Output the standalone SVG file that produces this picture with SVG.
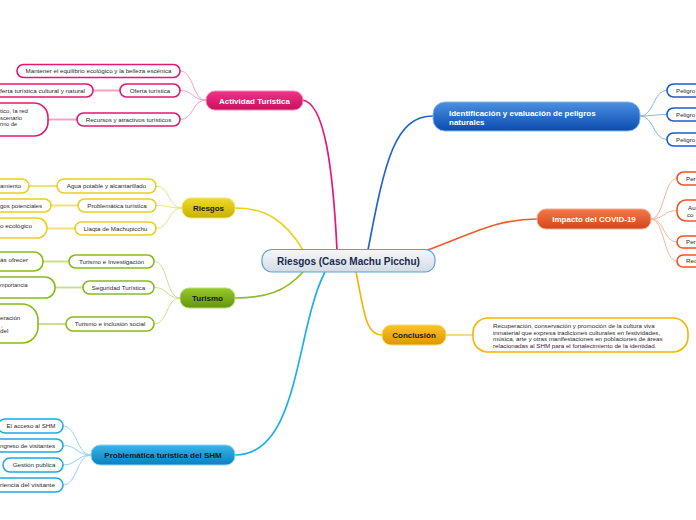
<svg xmlns="http://www.w3.org/2000/svg" width="696" height="520" viewBox="0 0 696 520">
<defs>
<linearGradient id="gC" x1="0" y1="0" x2="0" y2="1"><stop offset="0" stop-color="#f6f8fa"/><stop offset="1" stop-color="#d3dbe3"/></linearGradient>
<linearGradient id="gPink" x1="0" y1="0" x2="0" y2="1"><stop offset="0" stop-color="#f0348a"/><stop offset="1" stop-color="#c80f5c"/></linearGradient>
<linearGradient id="gYel" x1="0" y1="0" x2="0" y2="1"><stop offset="0" stop-color="#eedb2a"/><stop offset="1" stop-color="#c7b100"/></linearGradient>
<linearGradient id="gGrn" x1="0" y1="0" x2="0" y2="1"><stop offset="0" stop-color="#98c92a"/><stop offset="1" stop-color="#64950c"/></linearGradient>
<linearGradient id="gCy" x1="0" y1="0" x2="0" y2="1"><stop offset="0" stop-color="#3ab5ea"/><stop offset="1" stop-color="#0a80c0"/></linearGradient>
<linearGradient id="gBlu" x1="0" y1="0" x2="0" y2="1"><stop offset="0" stop-color="#4a90e2"/><stop offset="1" stop-color="#0a4cb0"/></linearGradient>
<linearGradient id="gOra" x1="0" y1="0" x2="0" y2="1"><stop offset="0" stop-color="#f5784a"/><stop offset="1" stop-color="#d2461a"/></linearGradient>
<linearGradient id="gGold" x1="0" y1="0" x2="0" y2="1"><stop offset="0" stop-color="#f9c32a"/><stop offset="1" stop-color="#de9700"/></linearGradient>
</defs>
<style>
text{font-family:"Liberation Sans",Arial,sans-serif}
.t{font-size:6.2px;fill:#2a2a2a}
.tc{font-size:6.2px;fill:#2a2a2a;text-anchor:middle}
.m{font-size:8px;font-weight:bold;text-anchor:middle}
.w{fill:#fff}
.d{fill:#1a1a1a}
.n{fill:#fff;stroke-width:1.6}
.pk{stroke:#e5186f}.ye{stroke:#e8d020}.gr{stroke:#86bb1a}.cy{stroke:#1ea8e6}.bl{stroke:#1a5fd0}.or{stroke:#ee5522}.go{stroke:#f5b400}
.main{fill:none;stroke-width:1.7}
.sub{fill:none;stroke-width:1}
.gc{fill:none;stroke-width:2}
</style>
<g id="connectors">
<path class="main" stroke="#e8177a" d="M337,250 C333,170 325,102 302,100"/>
<path class="main" stroke="#1e64d2" d="M368,250 C385,160 395,116 433,116"/>
<path class="main" stroke="#f05a28" d="M425,251 C470,235 495,219 537,219"/>
<path class="main" stroke="#e8d41e" d="M303,250 C285,220 265,208 235,208"/>
<path class="main" stroke="#8cbf26" d="M303,272 C285,292 265,298 235,298"/>
<path class="main" stroke="#1cb0ea" d="M325,272 C295,330 300,455 235,455"/>
<path class="main" stroke="#f5b50a" d="M356,272 C364,310 365,335 382,335"/>
<g stroke="#f6a0c4">
<path class="sub" d="M206,100 C192,100 194,71 180,71"/>
<path class="sub" d="M206,100 C192,100 194,90.5 180,90.5"/>
<path class="sub" d="M206,100 C192,100 194,119.5 180,119.5"/>
<path class="gc" d="M120,90.5 H93"/>
<path class="gc" d="M77,119.5 H48"/>
</g>
<g stroke="#efe07a">
<path class="sub" d="M182,208 C168,208 170,186 156,186"/>
<path class="sub" d="M182,208 C168,208 170,205.5 156,205.5"/>
<path class="sub" d="M182,208 C168,208 170,228.5 156,228.5"/>
<path class="gc" d="M57,186 H29"/>
<path class="gc" d="M78,205.5 H51"/>
<path class="gc" d="M75,228.5 H47"/>
</g>
<g stroke="#c8e08c">
<path class="sub" d="M180,298 C166,298 168,261.5 154,261.5"/>
<path class="sub" d="M180,298 C166,298 168,287.5 154,287.5"/>
<path class="sub" d="M180,298 C166,298 168,324 154,324"/>
<path class="gc" d="M69,261.5 H43"/>
<path class="gc" d="M83,287.5 H55"/>
<path class="gc" d="M66,324 H38"/>
</g>
<g stroke="#8fd3f3">
<path class="sub" d="M91,455 C77,455 77,426 63,426"/>
<path class="sub" d="M91,455 C77,455 77,445.5 63,445.5"/>
<path class="sub" d="M91,455 C77,455 77,465 63,465"/>
<path class="sub" d="M91,455 C77,455 77,485 63,485"/>
</g>
<g stroke="#8ab4ec">
<path class="sub" d="M640,116 C654,116 653,90.5 667,90.5"/>
<path class="sub" d="M640,116 C654,116 653,114.5 667,114.5"/>
<path class="sub" d="M640,116 C654,116 653,139.5 667,139.5"/>
</g>
<g stroke="#f8b49a">
<path class="sub" d="M651,219 C664,219 664,178.5 677,178.5"/>
<path class="sub" d="M651,219 C664,219 664,210.5 677,210.5"/>
<path class="sub" d="M651,219 C664,219 664,242 677,242"/>
<path class="sub" d="M651,219 C664,219 664,261 677,261"/>
</g>
<path class="gc" stroke="#f9d98a" d="M446,335 H473"/>
</g>

<g id="central">
<rect x="262" y="249.5" width="173" height="22.5" rx="10" fill="url(#gC)" stroke="#5aa0d6" stroke-width="1.2"/>
<text x="348.5" y="264.5" text-anchor="middle" font-size="10" font-weight="bold" fill="#1c2a4a">Riesgos (Caso Machu Picchu)</text>
</g>

<g id="actividad">
<rect x="206" y="91" width="97" height="19" rx="9" fill="url(#gPink)" stroke="#f58cb8" stroke-width="1"/>
<text class="m w" x="254.5" y="103.5">Actividad Turística</text>
</g>
<g id="act-1"><rect class="n pk" x="17" y="64.5" width="163" height="13" rx="6.5"/><text class="tc" x="98.5" y="73.2">Mantener el equilibrio ecológico y la belleza escénica</text></g>
<g id="act-2"><rect class="n pk" x="120" y="84" width="60" height="13" rx="6.5"/><text class="tc" x="150" y="92.7">Oferta turística</text></g>
<g id="act-2a"><rect class="n pk" x="-20" y="84" width="113" height="13" rx="6.5"/><text class="t" x="0" y="92.7" textLength="85" lengthAdjust="spacingAndGlyphs">ferta turística cultural y natural</text></g>
<g id="act-3"><rect class="n pk" x="77" y="113" width="103" height="13" rx="6.5"/><text class="tc" x="128.5" y="121.7">Recursos y atractivos turísticos</text></g>
<g id="act-3a"><rect class="n pk" x="-30" y="103" width="78" height="33" rx="14"/>
<text class="t" x="0" y="113" textLength="28" lengthAdjust="spacingAndGlyphs">tico, la red</text><text class="t" x="0" y="119.5" textLength="22" lengthAdjust="spacingAndGlyphs">scenario</text><text class="t" x="0" y="126" textLength="17" lengthAdjust="spacingAndGlyphs">rmo de</text></g>

<g id="riesgos">
<rect x="182" y="198" width="53" height="20" rx="9" fill="url(#gYel)" stroke="#f2e470" stroke-width="1"/>
<text class="m d" x="208.5" y="211">Riesgos</text>
</g>
<g id="rie-1"><rect class="n ye" x="57" y="179" width="99" height="14" rx="7"/><text class="tc" x="106.5" y="188.2">Agua potable y alcantarillado</text></g>
<g id="rie-1a"><rect class="n ye" x="-20" y="179" width="49" height="14" rx="7"/><text class="t" x="0" y="188.2" textLength="21" lengthAdjust="spacingAndGlyphs">amiento</text></g>
<g id="rie-2"><rect class="n ye" x="78" y="199" width="78" height="13" rx="6.5"/><text class="tc" x="117" y="207.7">Problemática turística</text></g>
<g id="rie-2a"><rect class="n ye" x="-20" y="199" width="71" height="13" rx="6.5"/><text class="t" x="0" y="207.7" textLength="42" lengthAdjust="spacingAndGlyphs">gos potenciales</text></g>
<g id="rie-3"><rect class="n ye" x="75" y="222" width="81" height="13" rx="6.5"/><text class="tc" x="115.5" y="230.7">Llaqta de Machupicchu</text></g>
<g id="rie-3a"><rect class="n ye" x="-30" y="218" width="77" height="20" rx="10"/><text class="t" x="0" y="228" textLength="32" lengthAdjust="spacingAndGlyphs">o ecológico</text></g>

<g id="turismo">
<rect x="180" y="288" width="55" height="20" rx="9" fill="url(#gGrn)" stroke="#bcdc7a" stroke-width="1"/>
<text class="m d" x="207.5" y="301">Turismo</text>
</g>
<g id="tur-1"><rect class="n gr" x="69" y="255" width="85" height="13" rx="6.5"/><text class="tc" x="111.5" y="263.7">Turismo e Investigación</text></g>
<g id="tur-1a"><rect class="n gr" x="-30" y="252" width="73" height="19" rx="9"/><text class="t" x="0" y="261.5" textLength="28" lengthAdjust="spacingAndGlyphs">ás ofrecer</text></g>
<g id="tur-2"><rect class="n gr" x="83" y="281" width="71" height="13" rx="6.5"/><text class="tc" x="118.5" y="289.7">Seguridad Turística</text></g>
<g id="tur-2a"><rect class="n gr" x="-30" y="277" width="85" height="21" rx="10"/><text class="t" x="0" y="287" textLength="27.5" lengthAdjust="spacingAndGlyphs">mportancia</text></g>
<g id="tur-3"><rect class="n gr" x="66" y="317" width="88" height="14" rx="7"/><text class="tc" x="110" y="326.2">Turismo e inclusión social</text></g>
<g id="tur-3a"><rect class="n gr" x="-40" y="304" width="78" height="39" rx="16"/>
<text class="t" x="0" y="320">eración</text><text class="t" x="1" y="326.5">,</text><text class="t" x="0" y="333">del</text></g>

<g id="problematica">
<rect x="91" y="445" width="144" height="20" rx="9" fill="url(#gCy)" stroke="#8fd6f5" stroke-width="1"/>
<text class="m d" x="163" y="458">Problemática turística del SHM</text>
</g>
<g id="pro-1"><rect class="n cy" x="-2" y="419" width="65" height="14" rx="7"/><text class="tc" x="31" y="428.2">El acceso al SHM</text></g>
<g id="pro-2"><rect class="n cy" x="-20" y="439" width="83" height="13" rx="6.5"/><text class="t" x="0" y="447.7" textLength="55" lengthAdjust="spacingAndGlyphs">ngreso de visitantes</text></g>
<g id="pro-3"><rect class="n cy" x="3" y="458" width="60" height="14" rx="7"/><text class="tc" x="34" y="467.2">Gestión publica</text></g>
<g id="pro-4"><rect class="n cy" x="-20" y="478" width="83" height="14" rx="7"/><text class="t" x="0" y="487.2" textLength="55" lengthAdjust="spacingAndGlyphs">riencia del visitante</text></g>

<g id="identificacion">
<rect x="433" y="102" width="207" height="29" rx="12" fill="url(#gBlu)" stroke="#8ab6ee" stroke-width="1"/>
<text class="m w" x="449" y="115.5" style="text-anchor:start">Identificación y evaluación de peligros</text>
<text class="m w" x="449" y="125" style="text-anchor:start">naturales</text>
</g>
<g id="ide-1"><rect class="n bl" x="667" y="84" width="50" height="13" rx="6.5"/><text class="t" x="676" y="92.7">Peligro</text></g>
<g id="ide-2"><rect class="n bl" x="667" y="108" width="50" height="13" rx="6.5"/><text class="t" x="676" y="116.7">Peligro</text></g>
<g id="ide-3"><rect class="n bl" x="667" y="133" width="50" height="13" rx="6.5"/><text class="t" x="676" y="141.7">Peligro</text></g>

<g id="impacto">
<rect x="537" y="209" width="114" height="20" rx="9" fill="url(#gOra)" stroke="#f8ad90" stroke-width="1"/>
<text class="m w" x="594" y="222">Impacto del COVID-19</text>
</g>
<g id="imp-1"><rect class="n or" x="677" y="172" width="40" height="13" rx="6.5"/><text class="t" x="686" y="180.7">Pers</text></g>
<g id="imp-2"><rect class="n or" x="677" y="200" width="40" height="21" rx="9"/><text class="t" x="688" y="210">Au</text><text class="t" x="687" y="216.5">co</text></g>
<g id="imp-3"><rect class="n or" x="677" y="236" width="40" height="12" rx="6"/><text class="t" x="686" y="244.3">Pers</text></g>
<g id="imp-4"><rect class="n or" x="677" y="255" width="40" height="12" rx="6"/><text class="t" x="686" y="263.3">Red</text></g>

<g id="conclusion">
<rect x="382" y="325" width="64" height="20" rx="9" fill="url(#gGold)" stroke="#fbd77a" stroke-width="1"/>
<text class="m d" x="414" y="338">Conclusión</text>
</g>
<g id="con-1"><rect class="n go" x="473" y="318" width="215" height="34" rx="15"/>
<text class="t" x="493" y="328">Recuperación, conservación y promoción de la cultura viva</text>
<text class="t" x="493" y="334.5">inmaterial que expresa tradiciones culturales en festividades,</text>
<text class="t" x="493" y="341">música, arte y otras manifestaciones en poblaciones de áreas</text>
<text class="t" x="493" y="347.5">relacionadas al SHM para el fortalecimiento de la identidad.</text>
</g>
</svg>
